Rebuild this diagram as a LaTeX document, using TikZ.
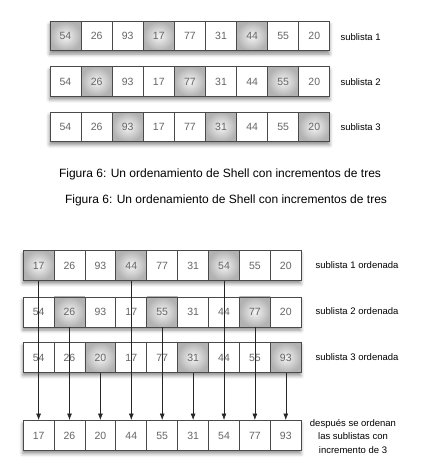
\documentclass[tikz,border=0pt]{standalone}
\usepackage{fontspec}
\setmainfont{Liberation Sans}
\usetikzlibrary{shadows.blur,arrows.meta}
\definecolor{numgray}{HTML}{666666}
\definecolor{edgegray}{HTML}{4A4A4A}
\tikzset{
 cell/.style={draw=edgegray, line width=0.9pt, minimum width=31.1pt, minimum height=29.5pt,
   inner sep=0pt, anchor=north west, fill=white, text=numgray, font=\fontsize{10.5}{12}\selectfont},
 hl/.style={shading=radial, inner color=gray!8, outer color=gray!60},
 nohl/.style={},
 rowbox/.style={anchor=north west, inner sep=0pt, minimum width=280pt, minimum height=29.5pt, fill=white,
   blur shadow={shadow xshift=0pt, shadow yshift=-3.5pt, shadow blur radius=3.5pt, shadow opacity=45}},
 lbl/.style={font=\fontsize{9.5}{11}\selectfont, anchor=west, text=black},
 arr/.style={-{Latex[length=6.5pt,width=5pt]}, draw=black!85, line width=0.6pt},
 figcap/.style={font=\fontsize{12}{14}\selectfont}
}
\begin{document}
\begin{tikzpicture}[x=1pt,y=-1pt]
\useasboundingbox (0,0) rectangle (420,465);
% ---------- top section ----------
\foreach \r/\vals in {1/{54,26,93,17,77,31,44,55,20},2/{54,26,93,17,77,31,44,55,20},3/{54,26,93,17,77,31,44,55,20}}{
  \pgfmathsetmacro{\ty}{21+45.3*(\r-1)}
  \node[rowbox] (ar\r) at (49.5,\ty) {};
  \foreach \v [count=\k] in \vals {
    \pgfmathtruncatemacro{\m}{mod(\k-1,3)+1}
    \ifnum\m=\r \def\st{hl}\else\def\st{nohl}\fi
    \node[cell,\st] (a\r c\k) at ({49.5+31.1*(\k-1)},\ty) {\v};
  }
}
\node[lbl] (la1) at (337,37) {sublista 1};
\node[lbl] (la2) at (337,82) {sublista 2};
\node[lbl] (la3) at (337,127) {sublista 3};
\node[figcap] (cap1) at (220,174) {Figura 6: Un ordenamiento de Shell con incrementos de tres};
\node[figcap] (cap2) at (226,200) {Figura 6: Un ordenamiento de Shell con incrementos de tres};
% ---------- bottom section ----------
\foreach \r/\ty/\vals in {1/250/{17,26,93,44,77,31,54,55,20},2/296.5/{54,26,93,17,55,31,44,77,20},3/342/{54,26,20,17,77,31,44,55,93}}{
  \node[rowbox, minimum width=278pt, minimum height=30pt] (br\r) at (22.7,\ty) {};
  \foreach \v [count=\k] in \vals {
    \pgfmathtruncatemacro{\m}{mod(\k-1,3)+1}
    \ifnum\m=\r \def\st{hl}\else\def\st{nohl}\fi
    \node[cell,\st, minimum width=30.9pt, minimum height=30pt] (b\r c\k) at ({22.7+30.9*(\k-1)},\ty) {\v};
  }
}
\node[rowbox, minimum width=278pt, minimum height=30pt] (fr) at (22.7,420) {};
\foreach \v [count=\k] in {17,26,20,44,55,31,54,77,93} {
  \node[cell, minimum width=30.9pt, minimum height=30pt] (fc\k) at ({22.7+30.9*(\k-1)},420) {\v};
}
\foreach \k in {1,...,9} {
  \pgfmathtruncatemacro{\m}{mod(\k-1,3)+1}
  \draw[arr] (b\m c\k.south) -- (fc\k.north);
}
\node[lbl] (lb1) at (312,265) {sublista 1 ordenada};
\node[lbl] (lb2) at (312,311) {sublista 2 ordenada};
\node[lbl] (lb3) at (312,357) {sublista 3 ordenada};
\node[font=\fontsize{9.5}{13.8}\selectfont, align=center] (lb4) at (353,436.5) {después se ordenan\\las sublistas con\\incremento de 3};
\end{tikzpicture}
\end{document}
